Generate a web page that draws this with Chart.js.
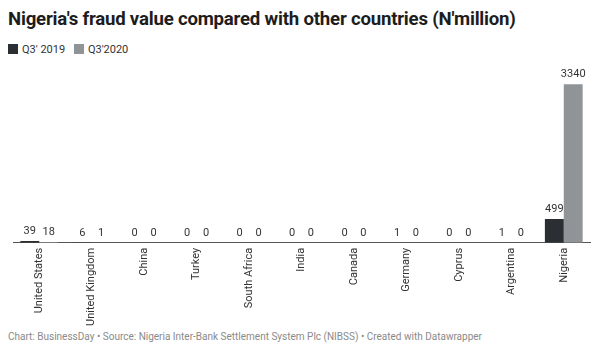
<!DOCTYPE html>
<html>
<head>
<meta charset="utf-8">
<script src="https://cdn.jsdelivr.net/npm/chart.js@4"></script>
<style>
  body { margin: 0; background: #fff; font-family: Roboto, sans-serif; width: 602px; height: 353px; overflow: hidden; position: relative; }
  .title { position: absolute; left: 8px; top: 8px; font-size: 18.6px; font-weight: bold; color: #1d1d1d; letter-spacing: -0.2px; }
  .legend { position: absolute; left: 8px; top: 43px; font-size: 11px; color: #333; }
  .legend span { display: inline-block; margin-right: 6px; }
  .legend i { display: inline-block; width: 10px; height: 10px; vertical-align: -1px; margin-right: 4px; }
  .chart { position: absolute; left: 0; top: 62px; width: 602px; height: 269px; }
  .footer { position: absolute; left: 8px; top: 331px; font-size: 10px; color: #8a8a8a; }
</style>
</head>
<body>
<div class="title">Nigeria's fraud value compared with other countries (N'million)</div>
<div class="legend">
  <span><i style="background:#2b2f33"></i>Q3' 2019</span>
  <span><i style="background:#909497"></i>Q3'2020</span>
</div>
<div class="chart"><canvas id="fraudChart"></canvas></div>
<div class="footer">Chart: BusinessDay • Source: Nigeria Inter-Bank Settlement System Plc (NIBSS) • Created with Datawrapper</div>
<script>
// Data
const countries = ['United States', 'United Kingdom', 'China', 'Turkey', 'South Africa', 'India', 'Canada', 'Germany', 'Cyprus', 'Argentina', 'Nigeria'];
const q3_2019 = [39, 6, 0, 0, 0, 0, 0, 1, 0, 1, 499];
const q3_2020 = [18, 1, 0, 0, 0, 0, 0, 0, 0, 0, 3340];

// value labels on top of each bar
const valueLabels = {
  id: 'valueLabels',
  afterDatasetsDraw(chart) {
    const ctx = chart.ctx;
    ctx.save();
    ctx.font = '11px Roboto, sans-serif';
    ctx.fillStyle = '#333';
    ctx.textAlign = 'center';
    ctx.textBaseline = 'bottom';
    chart.data.datasets.forEach(function(ds, i) {
      chart.getDatasetMeta(i).data.forEach(function(bar, j) {
        ctx.fillText(ds.data[j], bar.x, bar.y - 4);
      });
    });
    ctx.restore();
  }
};

const ctx = document.getElementById('fraudChart').getContext('2d');
const fraudChart = new Chart(ctx, {
  type: 'bar',
  data: {
    labels: countries,
    datasets: [
      { label: "Q3' 2019", data: q3_2019, backgroundColor: '#2b2f33', barPercentage: 1, categoryPercentage: 0.72 },
      { label: "Q3'2020", data: q3_2020, backgroundColor: '#909497', barPercentage: 1, categoryPercentage: 0.72 }
    ]
  },
  options: {
    responsive: true,
    maintainAspectRatio: false,
    animation: false,
    layout: { padding: { top: 8, left: 13, right: 12, bottom: 0 } },
    plugins: {
      legend: { display: false },
      tooltip: { enabled: false }
    },
    scales: {
      x: {
        grid: { display: false, drawTicks: false },
        border: { display: true, color: '#555', width: 1 },
        ticks: {
          minRotation: 90,
          maxRotation: 90,
          padding: 5,
          color: '#333',
          font: { family: 'Roboto', size: 11 }
        }
      },
      y: {
        display: false,
        min: 0,
        max: 3640
      }
    }
  },
  plugins: [valueLabels]
});
</script>
</body>
</html>
